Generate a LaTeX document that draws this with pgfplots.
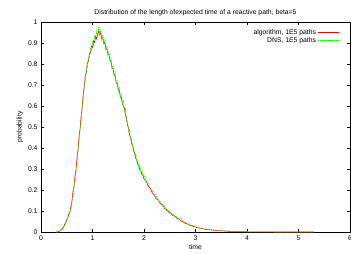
\documentclass[border=0pt]{standalone}
\usepackage{pgfplots}
\pgfplotsset{compat=1.18}
\usepackage{fontspec}
\setmainfont{Liberation Sans}
\begin{document}
\begin{tikzpicture}
\begin{axis}[
  scale only axis, width=309pt, height=210pt,
  xmin=0, xmax=6, ymin=0, ymax=1,
  xtick={0,1,2,3,4,5,6}, ytick={0,0.1,0.2,0.3,0.4,0.5,0.6,0.7,0.8,0.9,1},
  yticklabels={0,0.1,0.2,0.3,0.4,0.5,0.6,0.7,0.8,0.9,1},
  xticklabels={0,1,2,3,4,5,6},
  tick align=inside, tick style={black, line width=0.6pt}, major tick length=3pt,
  axis line style={line width=0.8pt},
  ticklabel style={font=\fontsize{6.8}{8}\selectfont},
  /pgf/number format/assume math mode=true,
  xlabel={time}, ylabel={probability},
  label style={font=\fontsize{6.8}{8}\selectfont},
  xlabel style={yshift=3pt}, ylabel style={yshift=-2pt},
  title={Distribution of the length ofexpected time of a reactive path, beta=5},
  title style={font=\fontsize{6.8}{8}\selectfont, yshift=-3pt},
  legend style={draw=none, fill=none, at={(0.975,0.985)}, anchor=north east, font=\fontsize{6.8}{8}\selectfont, row sep=-2.5pt,
    /tikz/every even column/.append style={column sep=2pt}},
  legend cell align=right, legend plot pos=right,
  legend image post style={xscale=1.2},
]
\addplot[red, line width=0.6pt] coordinates {
(0.30,0)(0.32,0)(0.34,0.002)(0.36,0.004)(0.38,0.009)(0.40,0.011)(0.42,0.019)(0.44,0.024)(0.46,0.037)(0.48,0.044)
(0.50,0.060)(0.52,0.068)(0.54,0.087)(0.56,0.095)(0.58,0.122)(0.60,0.146)(0.62,0.190)(0.64,0.215)(0.66,0.268)(0.68,0.296)
(0.70,0.356)(0.72,0.394)(0.74,0.458)(0.76,0.492)(0.78,0.557)(0.80,0.594)(0.82,0.658)(0.84,0.692)(0.86,0.742)(0.88,0.760)
(0.90,0.808)(0.92,0.812)(0.94,0.850)(0.96,0.852)(0.98,0.884)(1.00,0.880)(1.02,0.910)(1.04,0.903)(1.06,0.932)(1.08,0.920)
(1.10,0.940)(1.12,0.958)(1.14,0.938)(1.16,0.952)(1.18,0.922)(1.20,0.926)(1.22,0.896)(1.24,0.902)(1.26,0.871)(1.28,0.872)
(1.30,0.844)(1.32,0.846)(1.34,0.814)(1.36,0.812)(1.38,0.780)(1.40,0.780)(1.42,0.746)(1.44,0.745)(1.46,0.709)(1.48,0.707)
(1.50,0.676)(1.52,0.674)(1.54,0.644)(1.56,0.642)(1.58,0.612)(1.60,0.598)(1.62,0.590)(1.64,0.556)(1.66,0.546)(1.68,0.508)
(1.70,0.496)(1.72,0.461)(1.74,0.452)(1.76,0.420)(1.78,0.413)(1.80,0.384)(1.82,0.376)(1.84,0.350)(1.86,0.344)(1.88,0.320)
(1.90,0.317)(1.92,0.295)(1.94,0.292)(1.96,0.273)(1.98,0.271)(2.00,0.252)(2.04,0.244)(2.08,0.218)(2.12,0.209)(2.16,0.186)
(2.20,0.178)(2.24,0.158)(2.28,0.153)(2.32,0.134)(2.36,0.130)(2.40,0.112)(2.44,0.107)(2.48,0.094)(2.52,0.091)(2.56,0.078)
(2.60,0.076)(2.64,0.065)(2.68,0.061)(2.72,0.052)(2.76,0.049)(2.80,0.041)(2.84,0.039)(2.88,0.032)(2.92,0.031)(2.96,0.026)
(3.00,0.024)(3.04,0.020)(3.08,0.019)(3.12,0.016)(3.16,0.015)(3.20,0.012)(3.3,0.010)(3.4,0.007)(3.5,0.006)(3.6,0.004)
(3.7,0.003)(3.8,0.002)(3.9,0.0015)(4.0,0.001)(4.2,0.0005)(4.4,0.0003)(4.6,0.0002)(4.8,0.0001)(5.0,0.0001)(5.3,0)
};
\addlegendentry{algorithm, 1E5 paths}
\addplot[green, line width=0.6pt, dash pattern=on 1.2pt off 0.8pt] coordinates {
(0.30,0)(0.32,0)(0.34,0.001)(0.36,0.003)(0.38,0.006)(0.40,0.010)(0.42,0.014)(0.44,0.022)(0.46,0.030)(0.48,0.043)
(0.50,0.052)(0.52,0.066)(0.54,0.076)(0.56,0.092)(0.58,0.105)(0.60,0.140)(0.62,0.168)(0.64,0.212)(0.66,0.240)(0.68,0.292)
(0.70,0.330)(0.72,0.392)(0.74,0.430)(0.76,0.494)(0.78,0.530)(0.80,0.596)(0.82,0.628)(0.84,0.700)(0.86,0.718)(0.88,0.778)
(0.90,0.782)(0.92,0.832)(0.94,0.830)(0.96,0.874)(0.98,0.866)(1.00,0.905)(1.02,0.890)(1.04,0.930)(1.06,0.915)(1.08,0.955)
(1.10,0.935)(1.12,0.978)(1.14,0.940)(1.16,0.962)(1.18,0.915)(1.20,0.940)(1.22,0.892)(1.24,0.915)(1.26,0.870)(1.28,0.885)
(1.30,0.840)(1.32,0.860)(1.34,0.812)(1.36,0.825)(1.38,0.778)(1.40,0.792)(1.42,0.742)(1.44,0.760)(1.46,0.706)(1.48,0.720)
(1.50,0.672)(1.52,0.690)(1.54,0.640)(1.56,0.656)(1.58,0.606)(1.60,0.628)(1.62,0.575)(1.64,0.588)(1.66,0.528)(1.68,0.530)
(1.70,0.478)(1.72,0.488)(1.74,0.438)(1.76,0.445)(1.78,0.400)(1.80,0.405)(1.82,0.364)(1.84,0.372)(1.86,0.333)(1.88,0.340)
(1.90,0.306)(1.92,0.318)(1.94,0.282)(1.96,0.294)(1.98,0.262)(2.00,0.272)(2.04,0.236)(2.08,0.232)(2.12,0.200)(2.16,0.198)
(2.20,0.170)(2.24,0.170)(2.28,0.146)(2.32,0.146)(2.36,0.122)(2.40,0.125)(2.44,0.100)(2.48,0.104)(2.52,0.085)(2.56,0.088)
(2.60,0.070)(2.64,0.074)(2.68,0.058)(2.72,0.068)(2.76,0.046)(2.80,0.048)(2.84,0.036)(2.88,0.040)(2.92,0.029)(2.96,0.032)
(3.00,0.025)(3.04,0.024)(3.08,0.018)(3.12,0.020)(3.16,0.014)(3.20,0.015)(3.3,0.011)(3.4,0.008)(3.5,0.006)(3.6,0.005)
(3.7,0.003)(3.8,0.002)(3.9,0.002)(4.0,0.001)(4.2,0.0006)(4.4,0.0003)(4.6,0.0002)(4.8,0.0001)(5.0,0.0001)(5.3,0)
};
\addlegendentry{DNS, 1E5 paths}
\end{axis}
\pgfresetboundingbox
\path (-41pt,-20pt) rectangle (310pt,232pt);
\end{tikzpicture}
\end{document}
